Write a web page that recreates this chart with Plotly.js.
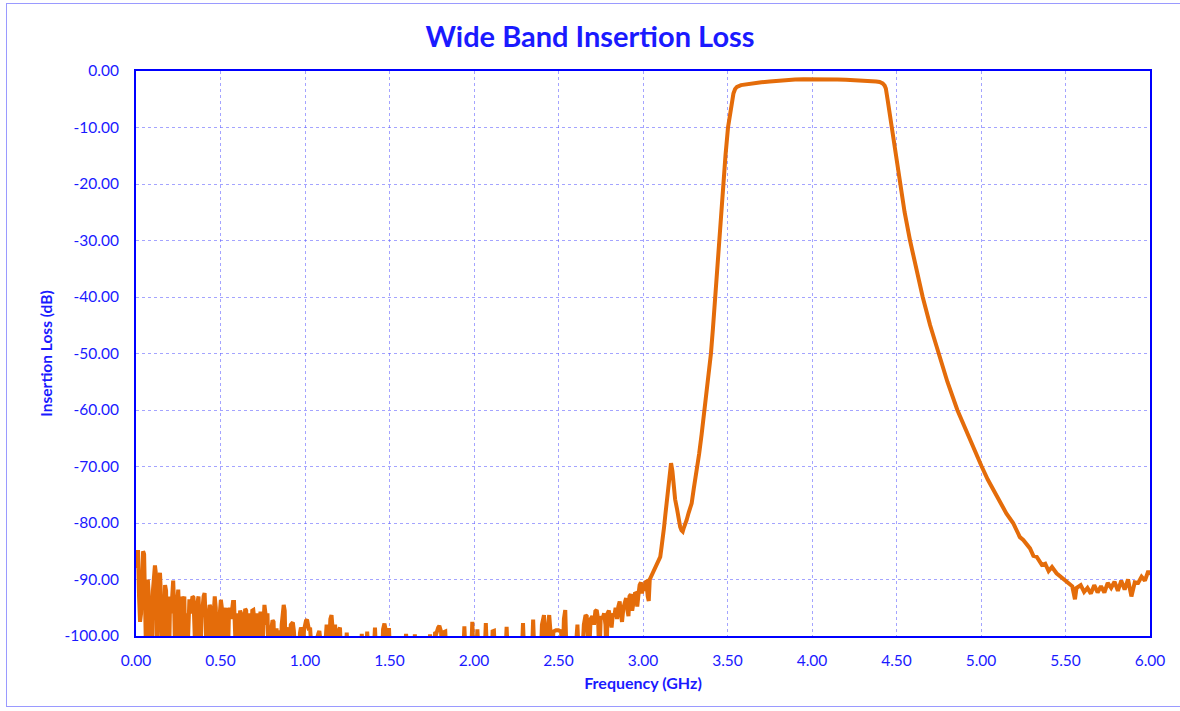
<!DOCTYPE html>
<html>
<head>
<meta charset="utf-8">
<script src="https://cdn.plot.ly/plotly-3.0.1.min.js"></script>
<style>
html,body{margin:0;padding:0;background:#fff;}
#frame{position:absolute;left:6px;top:3px;width:1190px;height:704px;border:1px solid #9a9aff;box-sizing:border-box;pointer-events:none;z-index:5;}
#chart{position:absolute;left:0;top:0;width:1180px;height:711px;}
</style>
</head>
<body>
<div id="chart"></div>
<div id="frame"></div>
<script>
// Frequency (GHz)
const freq = [
0.000,0.006,0.012,0.018,0.024,0.030,0.036,0.042,0.048,0.054,0.060,0.066,0.070,0.076,0.082,0.088,0.094,0.100,0.106,0.112,
0.118,0.124,0.130,0.136,0.142,0.148,0.154,0.160,0.166,0.172,0.178,0.184,0.190,0.196,0.202,0.208,0.214,0.220,0.226,0.232,
0.238,0.244,0.250,0.256,0.262,0.268,0.274,0.280,0.286,0.292,0.298,0.304,0.310,0.316,0.322,0.328,0.334,0.340,0.346,0.352,
0.358,0.364,0.370,0.376,0.382,0.388,0.394,0.400,0.406,0.412,0.418,0.424,0.430,0.436,0.442,0.448,0.454,0.460,0.466,0.472,
0.478,0.484,0.490,0.496,0.502,0.508,0.514,0.520,0.526,0.532,0.538,0.544,0.550,0.556,0.562,0.568,0.574,0.580,0.586,0.592,
0.598,0.604,0.610,0.616,0.622,0.628,0.634,0.640,0.646,0.652,0.658,0.664,0.670,0.676,0.682,0.688,0.694,0.700,0.706,0.712,
0.718,0.724,0.730,0.736,0.742,0.748,0.754,0.760,0.766,0.772,0.778,0.784,0.790,0.796,0.802,0.808,0.814,0.820,0.826,0.832,
0.838,0.844,0.850,0.856,0.862,0.868,0.874,0.880,0.886,0.892,0.898,0.904,0.910,0.916,0.922,0.928,0.934,0.940,0.946,0.952,
0.958,0.964,0.970,0.976,0.982,0.988,0.994,1.000,1.006,1.012,1.018,1.024,1.030,1.036,1.042,1.060,1.070,1.080,1.085,1.090,
1.100,1.115,1.122,1.128,1.134,1.140,1.150,1.157,1.164,1.170,1.178,1.186,1.200,1.207,1.214,1.240,1.247,1.254,1.330,1.336,
1.342,1.360,1.368,1.376,1.405,1.414,1.422,1.455,1.462,1.470,1.478,1.490,1.497,1.504,1.590,1.598,1.606,1.645,1.650,1.656,
1.735,1.740,1.746,1.760,1.770,1.778,1.788,1.795,1.805,1.812,1.822,1.830,1.838,1.935,1.943,1.951,1.982,1.990,1.998,2.012,
2.020,2.028,2.062,2.070,2.078,2.104,2.110,2.118,2.126,2.185,2.193,2.201,2.282,2.290,2.298,2.342,2.350,2.358,2.395,2.402,
2.414,2.422,2.430,2.438,2.445,2.452,2.460,2.470,2.485,2.500,2.515,2.525,2.532,2.540,2.548,2.598,2.606,2.612,2.620,2.640,
2.650,2.660,2.667,2.674,2.680,2.690,2.700,2.710,2.718,2.726,2.734,2.742,2.750,2.760,2.770,2.778,2.784,2.790,2.798,2.806,
2.814,2.822,2.830,2.838,2.846,2.854,2.862,2.868,2.876,2.884,2.892,2.900,2.908,2.914,2.920,2.928,2.936,2.944,2.952,2.960,
2.966,2.972,2.980,2.988,2.994,3.000,3.008,3.014,3.020,3.028,3.034,3.040,3.048,3.055,3.062,3.070,3.078,3.086,3.094,3.102,
3.110,3.116,3.124,3.132,3.140,3.148,3.156,3.166,3.174,3.182,3.190,3.200,3.210,3.220,3.228,3.235,3.242,3.250,3.258,3.270,
3.288,3.300,3.317,3.332,3.347,3.360,3.373,3.387,3.402,3.414,3.426,3.438,3.449,3.461,3.473,3.488,3.503,3.515,3.525,3.535,
3.545,3.556,3.580,3.610,3.650,3.700,3.750,3.800,3.850,3.900,3.950,4.000,4.050,4.100,4.150,4.200,4.250,4.300,4.350,4.380,
4.400,4.418,4.430,4.437,4.447,4.460,4.472,4.496,4.519,4.548,4.580,4.616,4.655,4.699,4.747,4.801,4.860,4.929,4.966,5.004,
5.040,5.075,5.110,5.150,5.190,5.210,5.230,5.250,5.270,5.290,5.310,5.330,5.360,5.380,5.400,5.420,5.447,5.470,5.500,
5.520,5.540,5.556,5.565,5.590,5.610,5.630,5.650,5.670,5.690,5.710,5.730,5.750,5.770,5.790,5.810,5.830,5.850,5.870,5.890,
5.910,5.930,5.950,5.970,5.990,6.000
];
// Insertion loss (dB)
const loss = [
-88,-86,-84.8,-93,-97.5,-96,-88,-85,-85.5,-92,-104,-95,-90,-93,-104,-96,-104,-92,-88,-87.5,
-89,-104,-96,-89,-88.8,-93,-104,-97,-104,-91,-92,-104,-95,-104,-93,-96,-90.5,-90.2,-95,-104,
-96,-92,-91.8,-97,-104,-98,-93,-95,-93,-104,-96,-104,-97,-93.5,-96,-94.5,-93,-93.2,-97,-104,
-95,-94,-93,-98,-104,-96,-95,-93,-92.4,-97,-104,-98,-96,-94.5,-95,-104,-99,-95,-93,-95,
-104,-97,-104,-96,-93.6,-95,-99,-104,-97,-95,-99,-104,-96,-95,-97,-95,-94,-94,-97,-104,
-96,-97,-104,-95.5,-96,-98,-104,-97,-95.2,-95.5,-104,-98,-96,-99,-104,-95.5,-95.4,-97,-104,-98,
-96,-104,-97,-96,-96,-104,-98,-94.5,-96,-98,-96,-104,-99,-104,-98.5,-97.2,-97.5,-104,-99,-99,
-104,-104,-99,-104,-98,-95,-94.5,-95.5,-104,-99,-98.5,-104,-99,-98,-97.8,-97.6,-99,-104,-104,-104,
-104,-104,-99.5,-98.5,-99,-104,-99,-98,-97.3,-97.1,-98,-99,-98.5,-104,-104,-104,-100.5,-99.5,-99.1,-100.5,
-104,-104,-99,-98,-99,-104,-97,-96.3,-99,-104,-98,-104,-99,-98.5,-104,-104,-99.4,-104,-104,-99.6,
-104,-104,-99.2,-104,-104,-98.5,-104,-104,-98.8,-97.8,-99,-104,-98.6,-104,-104,-99.6,-104,-104,-99.7,-104,
-104,-99.7,-104,-104,-99.3,-99.5,-98.5,-98.2,-99.2,-104,-99.3,-99.2,-104,-104,-98.3,-104,-104,-97.5,-104,-104,
-98.8,-104,-104,-97.7,-104,-104,-99.2,-99.1,-104,-104,-98.4,-104,-104,-97.7,-104,-104,-97.1,-104,-104,-98,
-96.3,-104,-100,-97,-96.3,-99,-104,-99.2,-99,-99,-99.2,-104,-97,-95.4,-104,-104,-98.5,-98,-104,-104,
-98,-96.3,-96.5,-99,-104,-97,-96.5,-98,-95.6,-95.4,-97,-104,-96.5,-97,-96,-98,-104,-96,-95.5,-97,
-98.5,-96,-96.5,-95,-97,-94.8,-93.9,-96,-97.5,-95,-94,-93.3,-95.5,-96.5,-93,-92.6,-95.5,-94,-92.5,-92.4,
-94.8,-93,-91,-90.5,-92.5,-90.8,-92,-90.5,-90.4,-93,-93.8,-90,-89.5,-89,-88.6,-88.3,-87.8,-87.3,-86.6,-86,
-84.2,-83.2,-80.9,-78.6,-76,-73.5,-71,-69.4,-70.8,-73.5,-75.8,-77.3,-79.5,-80.7,-81.3,-81.5,-80.8,-80.2,-79.5,-78.2,
-76.5,-74,-71.2,-67.8,-64.3,-61,-57.6,-54,-50,-45.5,-40.5,-35.3,-30,-25,-20,-15,-10,-7.5,-5.5,-4,
-3.2,-2.8,-2.5,-2.35,-2.2,-2.0,-1.86,-1.7,-1.6,-1.5,-1.45,-1.42,-1.42,-1.45,-1.5,-1.55,-1.6,-1.7,-1.75,-1.85,
-1.95,-2.2,-2.6,-3.1,-5,-7.6,-10,-15,-20,-25,-30,-35,-40,-45,-50,-55,-60,-65,-67.5,-70,
-72.3,-74.3,-76.2,-78.3,-80,-81.2,-82.5,-83,-83.9,-84.5,-85.8,-86,-87.4,-87.2,-88.5,-87.8,-88.9,-89.5,-90.1,
-90.8,-91.2,-93.5,-91.5,-91,-92.2,-91.5,-92.5,-91,-92.3,-91.2,-92.3,-90.6,-91.5,-90.4,-92,-90.2,-91.8,-90,-93,
-90.5,-90.6,-89.5,-90.2,-88.5,-89.2
];
const xTicks = [0,0.5,1,1.5,2,2.5,3,3.5,4,4.5,5,5.5,6];
const yTicks = [0,-10,-20,-30,-40,-50,-60,-70,-80,-90,-100];

const blue = '#1a1aff';
const fontFam = 'Lato, "Open Sans", sans-serif';

const trace = {
  x: freq, y: loss, type: 'scatter', mode: 'lines',
  line: {color: '#E46C0A', width: 4},
  hoverinfo: 'skip', showlegend: false
};

const layout = {
  width: 1180, height: 711,
  margin: {l: 136, r: 30, t: 71, b: 75},
  paper_bgcolor: 'rgba(0,0,0,0)', plot_bgcolor: '#ffffff',
  title: {text: '<b>Wide Band Insertion Loss</b>', font: {family: fontFam, size: 29, color: blue}, x: 0.5, xanchor: 'center', y: 0.948, yanchor: 'middle'},
  xaxis: {
    range: [0, 6], tickvals: xTicks, ticktext: xTicks.map(v => v.toFixed(2)),
    showgrid: true, gridcolor: 'rgba(90,90,255,0.55)', griddash: 'dot', gridwidth: 1,
    showline: true, linecolor: '#0000ff', linewidth: 2, mirror: true,
    ticks: '', ticklabelstandoff: 9, zeroline: false,
    tickfont: {family: fontFam, size: 15.5, color: blue},
    title: {text: '<b>Frequency (GHz)</b>', font: {family: fontFam, size: 16, color: blue}, standoff: 10}
  },
  yaxis: {
    range: [-100, 0], tickvals: yTicks, ticktext: yTicks.map(v => v.toFixed(2)),
    showgrid: true, gridcolor: 'rgba(90,90,255,0.55)', griddash: 'dot', gridwidth: 1,
    showline: true, linecolor: '#0000ff', linewidth: 2, mirror: true,
    ticks: '', ticklabelstandoff: 12, zeroline: false,
    tickfont: {family: fontFam, size: 15.5, color: blue},
    title: {text: '<b>Insertion Loss (dB)</b>', font: {family: fontFam, size: 15.5, color: blue}, standoff: 8}
  }
};

Plotly.newPlot('chart', [trace], layout, {displayModeBar: false, staticPlot: true});
</script>
</body>
</html>
